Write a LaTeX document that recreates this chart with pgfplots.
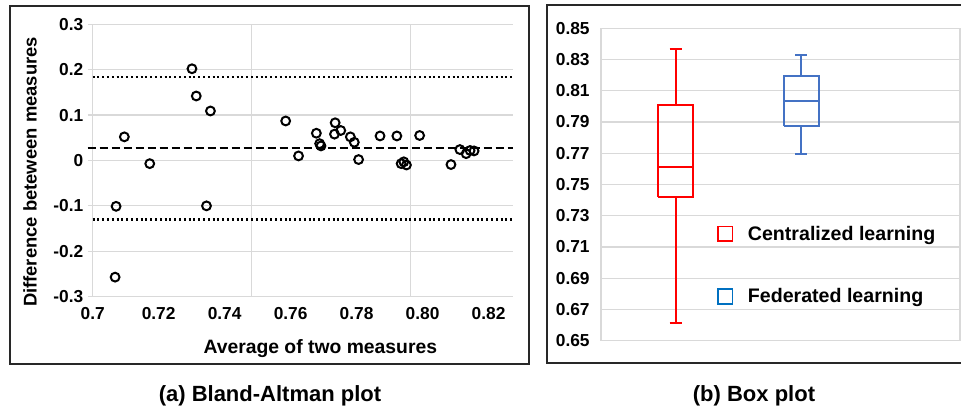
\documentclass[border=0pt]{standalone}
\usepackage{fontspec}
\setmainfont{Liberation Sans}
\usepackage{pgfplots}
\usepackage{pgfplotstable}
\pgfplotsset{compat=1.18}

\definecolor{gridgray}{RGB}{217,217,217}
\definecolor{cred}{RGB}{255,0,0}
\definecolor{fblue}{RGB}{68,114,196}
\definecolor{lblue}{RGB}{0,112,192}
\definecolor{frame}{RGB}{40,40,40}

% Bland-Altman points: average, difference
\pgfplotstableread{
x y
0.7068 -0.257
0.7071 -0.101
0.7096 0.052
0.7173 -0.007
0.7301 0.202
0.7314 0.142
0.7357 0.109
0.7345 -0.100
0.7585 0.087
0.7624 0.010
0.7678 0.060
0.7688 0.037
0.7692 0.032
0.7735 0.083
0.7733 0.058
0.7752 0.066
0.7781 0.052
0.7793 0.040
0.7806 0.002
0.7871 0.054
0.7922 0.054
0.7935 -0.007
0.7943 -0.003
0.7951 -0.010
0.7991 0.055
0.8086 -0.009
0.8113 0.024
0.8132 0.015
0.8144 0.022
0.8156 0.021
}\badata

\begin{document}
\begin{tikzpicture}
\useasboundingbox (0pt,0pt) rectangle (720.75pt,307.5pt);
\draw[line width=1.5pt, frame] (7.5pt,34.5pt) rectangle (396.75pt,303pt);
\draw[line width=1.5pt, frame] (725pt,303.75pt) -- (410pt,303.75pt) -- (410pt,35.25pt) -- (725pt,35.25pt);

\begin{axis}[
    at={(69.5pt,85pt)}, anchor=south west,
    scale only axis, width=315pt, height=204.3pt,
    xmin=0.7, xmax=0.8273, ymin=-0.3, ymax=0.3,
    axis line style={draw=none},
    xtick={0.7,0.72,0.74,0.76,0.78,0.80,0.82},
    xticklabels={0.7,0.72,0.74,0.76,0.78,0.80,0.82},
    ytick={-0.3,-0.2,-0.1,0,0.1,0.2,0.3},
    yticklabels={-0.3,-0.2,-0.1,0,0.1,0.2,0.3},
    ymajorgrids,
    grid style={gridgray, line width=0.9pt},
    xtick style={draw=none},
    ytick style={gridgray, line width=0.9pt},
    tick align=outside, ytick pos=left, major tick length=3.5pt,
    extra x ticks={0.7,0.7481,0.7964}, extra x tick labels={},
    extra x tick style={grid=major, major tick length=0pt},
    tick label style={font=\bfseries\fontsize{13}{15}\selectfont},
    xticklabel style={yshift=-1pt},
    xlabel={Average of two measures},
    ylabel={Difference beteween measures},
    xlabel style={at={(axis description cs:0.542,-0.19)}, anchor=center, font=\bfseries\fontsize{14.5}{17}\selectfont},
    ylabel style={at={(axis description cs:-0.149,0.458)}, anchor=center, font=\bfseries\fontsize{13.8}{16}\selectfont},
    clip=false,
]
\addplot[black, line width=1.6pt, dash pattern=on 6pt off 3pt] coordinates {(0.6985,0.027) (0.8273,0.027)};
\addplot[black, line width=1.6pt, dash pattern=on 1.5pt off 2.1pt] coordinates {(0.7,0.183) (0.8273,0.183)};
\addplot[black, line width=1.6pt, dash pattern=on 1.5pt off 2.1pt] coordinates {(0.7,-0.130) (0.8273,-0.130)};
\addplot[only marks, mark=o, mark size=3.3pt, mark options={line width=1.5pt, black}] table[x=x, y=y] {\badata};
\end{axis}

\begin{axis}[
    at={(450.75pt,52pt)}, anchor=south west,
    scale only axis, width=269.25pt, height=234.3pt,
    xmin=0.4053, xmax=3.2635, ymin=0.65, ymax=0.85,
    xtick=\empty,
    ytick={0.65,0.67,0.69,0.71,0.73,0.75,0.77,0.79,0.81,0.83,0.85},
    yticklabels={0.65,0.67,0.69,0.71,0.73,0.75,0.77,0.79,0.81,0.83,0.85},
    ymajorgrids,
    grid style={gridgray, line width=0.9pt},
    axis line style={gridgray, line width=0.9pt},
    major tick length=0pt,
    tick label style={font=\bfseries\fontsize{13}{15}\selectfont},
    yticklabel style={xshift=-5pt},
    legend image code/.code={\draw[#1] (0pt,-5.5pt) rectangle (11pt,5.5pt); \path (20pt,0pt);},
    legend style={at={(axis description cs:0.322,0.377)}, anchor=north west,
        draw=none, fill=none, inner sep=0pt, row sep=30.75pt,
        font=\bfseries\fontsize{14.7}{17}\selectfont},
    legend cell align=left,
]
% centralized learning: whiskers 0.6615 / 0.8366, quartiles 0.7418 / 0.8007, median 0.7614
\addplot[cred, line width=1.5pt, forget plot] coordinates {(0.863,0.7418) (1.137,0.7418) (1.137,0.8007) (0.863,0.8007) (0.863,0.7418)};
\addplot[cred, line width=1.5pt, forget plot] coordinates {(0.863,0.7614) (1.137,0.7614)};
\addplot[cred, line width=1.5pt, forget plot] coordinates {(1,0.8007) (1,0.8366)};
\addplot[cred, line width=1.5pt, forget plot] coordinates {(1,0.7418) (1,0.6615)};
\addplot[cred, line width=1.5pt, forget plot] coordinates {(0.9525,0.8366) (1.0475,0.8366)};
\addplot[cred, line width=1.5pt, forget plot] coordinates {(0.9525,0.6615) (1.0475,0.6615)};
% federated learning: whiskers 0.7697 / 0.8329, quartiles 0.7877 / 0.8193, median 0.8033
\addplot[fblue, line width=1.5pt, forget plot] coordinates {(1.863,0.7877) (2.137,0.7877) (2.137,0.8193) (1.863,0.8193) (1.863,0.7877)};
\addplot[fblue, line width=1.5pt, forget plot] coordinates {(1.863,0.8033) (2.137,0.8033)};
\addplot[fblue, line width=1.5pt, forget plot] coordinates {(2,0.8193) (2,0.8329)};
\addplot[fblue, line width=1.5pt, forget plot] coordinates {(2,0.7877) (2,0.7697)};
\addplot[fblue, line width=1.5pt, forget plot] coordinates {(1.9525,0.8329) (2.0475,0.8329)};
\addplot[fblue, line width=1.5pt, forget plot] coordinates {(1.9525,0.7697) (2.0475,0.7697)};
\addlegendimage{cred, line width=1.3pt}
\addlegendentry{Centralized learning}
\addlegendimage{lblue, line width=1.3pt}
\addlegendentry{Federated learning}
\end{axis}

\node[font=\bfseries\fontsize{16.5}{19}\selectfont] at (202.5pt,10.5pt) {(a) Bland-Altman plot};
\node[font=\bfseries\fontsize{16.5}{19}\selectfont] at (565.5pt,10.5pt) {(b) Box plot};
\end{tikzpicture}
\end{document}
